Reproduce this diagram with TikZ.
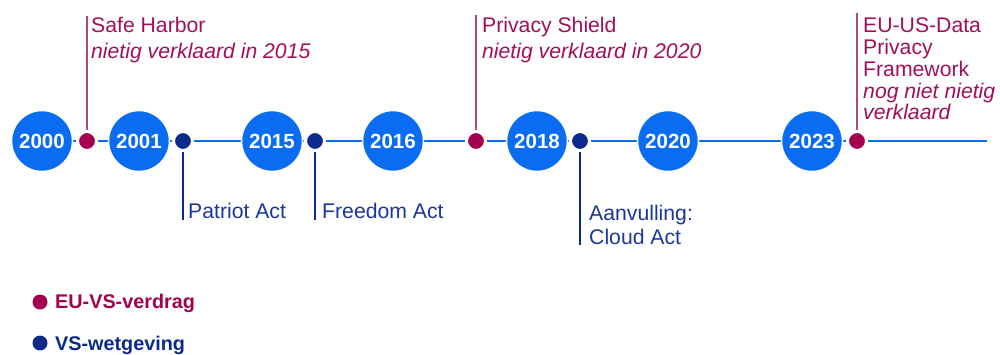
\documentclass[tikz,border=0pt]{standalone}
\usepackage{fontspec}
\setmainfont{Liberation Sans}
\definecolor{tlblue}{HTML}{0A6CF0}
\definecolor{euc}{HTML}{A3004F}
\definecolor{usc}{HTML}{0B2A8C}
\definecolor{eutext}{HTML}{A0105A}
\definecolor{ustext}{HTML}{1B3797}
\definecolor{euline}{HTML}{B04A7C}
\begin{document}
\begin{tikzpicture}[x=1pt,y=-1pt,
  yearc/.style={circle,fill=tlblue,draw=white,line width=1.5pt,minimum size=61pt,inner sep=0pt,text=white,font=\fontsize{20.5}{21}\selectfont\bfseries},
  eudot/.style={circle,fill=euc,draw=white,line width=3pt,minimum size=19pt,inner sep=0pt},
  usdot/.style={circle,fill=usc,draw=white,line width=3pt,minimum size=19pt,inner sep=0pt},
  eulbl/.style={anchor=base west,inner sep=0pt,text=eutext,font=\fontsize{21.2}{22}\selectfont},
  euitl/.style={eulbl,font=\fontsize{21.2}{22}\selectfont\itshape},
  uslbl/.style={anchor=base west,inner sep=0pt,text=ustext,font=\fontsize{21.2}{22}\selectfont},
  euconn/.style={draw=euline,line width=1.5pt},
  usconn/.style={draw=usc,line width=1.5pt},
  legdot/.style={circle,inner sep=0pt,minimum size=15pt},
  leglbl/.style={anchor=base west,inner sep=0pt,font=\fontsize{19.8}{20}\selectfont\bfseries}]
\useasboundingbox (0,0) rectangle (1000,354);
% timeline
\coordinate (tlstart) at (42,141);
\coordinate (tlend) at (987,141);
\draw[tlblue,line width=2pt] (tlstart) -- (tlend);
% connector ends
\coordinate (c1) at (87,16);
\coordinate (c2) at (476,15);
\coordinate (c3) at (857,13);
\coordinate (c4) at (183,220);
\coordinate (c5) at (315,220);
\coordinate (c6) at (580,245);
\draw[euconn] (87,141) -- (c1);
\draw[euconn] (476,141) -- (c2);
\draw[euconn] (857,141) -- (c3);
\draw[usconn] (183,141) -- (c4);
\draw[usconn] (315,141) -- (c5);
\draw[usconn] (580,141) -- (c6);
% year circles
\node[yearc] (y2000) at (42,141) {2000};
\node[yearc] (y2001) at (139,141) {2001};
\node[yearc] (y2015) at (272,141) {2015};
\node[yearc] (y2016) at (393,141) {2016};
\node[yearc] (y2018) at (537,141) {2018};
\node[yearc] (y2020) at (668,141) {2020};
\node[yearc] (y2023) at (812,141) {2023};
% dots
\node[eudot] (d1) at (87,141) {};
\node[usdot] (d2) at (183,141) {};
\node[usdot] (d3) at (315,141) {};
\node[eudot] (d4) at (476,141) {};
\node[usdot] (d5) at (580,141) {};
\node[eudot] (d6) at (857,141) {};
% EU labels
\node[eulbl] (sh1) at (91,32) {Safe Harbor};
\node[euitl] (sh2) at (91,58) {nietig verklaard in 2015};
\node[eulbl] (ps1) at (482,32) {Privacy Shield};
\node[euitl] (ps2) at (482,58) {nietig verklaard in 2020};
\node[eulbl] (dp1) at (863,32) {EU-US-Data};
\node[eulbl] (dp2) at (863,54) {Privacy};
\node[eulbl] (dp3) at (863,76) {Framework};
\node[euitl] (dp4) at (863,98) {nog niet nietig};
\node[euitl] (dp5) at (863,119) {verklaard};
% US labels
\node[uslbl] (pa) at (188,218) {Patriot Act};
\node[uslbl] (fa) at (322,218) {Freedom Act};
\node[uslbl] (ca1) at (589,220) {Aanvulling:};
\node[uslbl] (ca2) at (589,244) {Cloud Act};
% legend
\node[legdot,fill=euc] (l1) at (40,302) {};
\node[leglbl,text=euc] (lt1) at (55,308) {EU-VS-verdrag};
\node[legdot,fill=usc] (l2) at (40,343) {};
\node[leglbl,text=usc] (lt2) at (55,350) {VS-wetgeving};
\end{tikzpicture}
\end{document}
